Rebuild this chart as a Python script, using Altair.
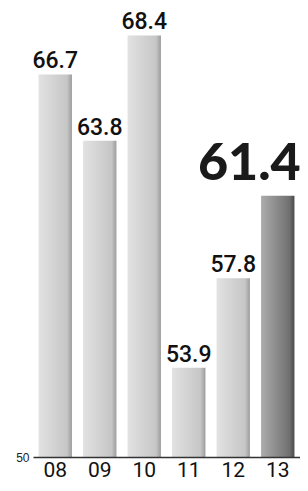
import altair as alt
import pandas as pd

years = ["08", "09", "10", "11", "12", "13"]
values = [66.7, 63.8, 68.4, 53.9, 57.8, 61.4]
labels = ["66.7", "63.8", "68.4", "53.9", "57.8", "61.4"]

df = pd.DataFrame({"year": years, "value": values, "label": labels})
df["hl"] = df["year"] == "13"

narrow = "Roboto, Liberation Sans, sans-serif"

x = alt.X("year:N", sort=years, title=None,
          scale=alt.Scale(paddingInner=0.25, paddingOuter=0.125),
          axis=alt.Axis(labelAngle=0, labelFontSize=21, labelFont=narrow, labelColor="#111",
                        ticks=False, domainColor="#333", domainWidth=1.5, labelPadding=2,
                        zindex=1))
y = alt.Y("value:Q", title=None,
          scale=alt.Scale(domain=[50, 69.6], nice=False, zero=False),
          axis=alt.Axis(values=[50], domain=False, ticks=False, grid=False,
                        labelFontSize=12, labelColor="#222", labelPadding=4,
                        labelFont="Liberation Sans", labelBaseline="middle"))

light = alt.Gradient(gradient="linear", x1=0, x2=1, y1=0, y2=0,
                     stops=[alt.GradientStop(color="#e2e2e2", offset=0),
                            alt.GradientStop(color="#c6c6c6", offset=0.85),
                            alt.GradientStop(color="#9c9c9c", offset=1)])
dark = alt.Gradient(gradient="linear", x1=0, x2=1, y1=0, y2=0,
                    stops=[alt.GradientStop(color="#acacac", offset=0),
                           alt.GradientStop(color="#707070", offset=0.85),
                           alt.GradientStop(color="#4a4a4a", offset=1)])

base = alt.Chart(df)
bars_light = base.transform_filter("!datum.hl").mark_bar(color=light).encode(
    x=x, y=y, y2=alt.datum(50))
bars_dark = base.transform_filter("datum.hl").mark_bar(color=dark).encode(
    x=x, y=y, y2=alt.datum(50))

text = base.transform_filter("!datum.hl").mark_text(
    baseline="alphabetic", dy=-6, fontSize=23, font=narrow, color="#111", fontWeight=500
).encode(x=x, y=y, text="label:N")

big = base.transform_filter("datum.hl").mark_text(
    baseline="alphabetic", align="right", dx=23, dy=-16, fontSize=52, font="Lato", fontWeight=900,
    color="#1a1a1a"
).encode(x=x, y=y, text="label:N")

chart = alt.layer(bars_light, bars_dark, text, big).properties(
    width=267, height=449,
    background="white",
    autosize=alt.AutoSizeParams(type="none"),
    padding={"left": 25, "top": 0, "right": 0, "bottom": 24},
).configure_view(stroke=None)

chart.save("out.html", embed_options={"renderer": "svg", "actions": False})
